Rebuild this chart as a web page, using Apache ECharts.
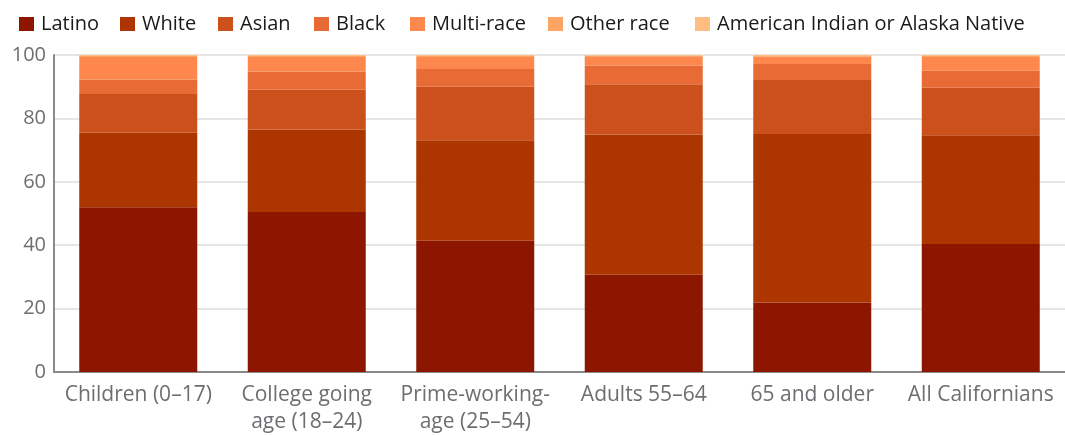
<!DOCTYPE html>
<html>
<head>
<meta charset="utf-8">
<script src="https://cdn.jsdelivr.net/npm/echarts@6/dist/echarts.min.js"></script>
<style>html,body{margin:0;padding:0;background:#fff;}#c{width:1065px;height:436px;}</style>
</head>
<body>
<div id="c"></div>
<script>
var categories = ['Children (0–17)', 'College going\nage (18–24)', 'Prime-working-\nage (25–54)', 'Adults 55–64', '65 and older', 'All Californians'];
var seriesNames = ['Latino', 'White', 'Asian', 'Black', 'Multi-race', 'Other race', 'American Indian or Alaska Native'];
var latino = [52.0, 50.5, 41.4, 30.7, 21.9, 40.4];
var white  = [23.5, 26.0, 31.7, 44.2, 53.2, 34.3];
var asian  = [12.2, 12.5, 16.9, 15.9, 17.0, 15.0];
var black  = [4.6, 5.8, 5.6, 5.8, 5.1, 5.4];
var multi  = [7.1, 4.6, 3.8, 3.0, 2.3, 4.3];
var other  = [0.3, 0.3, 0.3, 0.2, 0.2, 0.3];
var aian   = [0.3, 0.3, 0.3, 0.2, 0.3, 0.3];
var yTicks = [0, 20, 40, 60, 80, 100];

var colors = ['#8c1600', '#ad3500', '#cb501c', '#e86b35', '#fe874d', '#fea564', '#ffbd7f'];
var values = [latino, white, asian, black, multi, other, aian];
var legendLeft = [14, 115, 213, 309, 405, 543, 690];
var FONT = 'Open Sans';

var legends = seriesNames.map(function (n, i) {
  return {
    left: legendLeft[i], top: 9,
    itemWidth: 15, itemHeight: 14, itemGap: 0,
    icon: 'rect',
    textStyle: {fontFamily: FONT, fontSize: 20, color: '#1a1a1a', padding: [0, 0, 0, 2]},
    data: [n]
  };
});

var chart = echarts.init(document.getElementById('c'), null, {renderer: 'canvas'});
chart.setOption({
  animation: false,
  color: colors,
  textStyle: {fontFamily: FONT},
  legend: legends,
  grid: {left: 54, right: -9, top: 55, bottom: 62},
  xAxis: {
    type: 'category',
    data: categories,
    axisTick: {show: false},
    axisLine: {lineStyle: {color: '#8a8a8a', width: 2}},
    axisLabel: {fontFamily: FONT, fontSize: 21, color: '#6d6e71', lineHeight: 27, margin: 10, interval: 0}
  },
  yAxis: {
    type: 'value', min: yTicks[0], max: yTicks[yTicks.length - 1], interval: 20,
    axisLine: {show: true, lineStyle: {color: '#8a8a8a', width: 2}},
    axisTick: {show: false},
    splitLine: {lineStyle: {color: '#e6e6e6', width: 2}},
    axisLabel: {fontFamily: FONT, fontSize: 20, color: '#6d6e71', margin: 8}
  },
  series: seriesNames.map(function (n, i) {
    return {
      name: n, type: 'bar', stack: 'total', barWidth: 118,
      data: values[i],
      itemStyle: {color: colors[i], borderWidth: 0}
    };
  })
});
</script>
</body>
</html>
